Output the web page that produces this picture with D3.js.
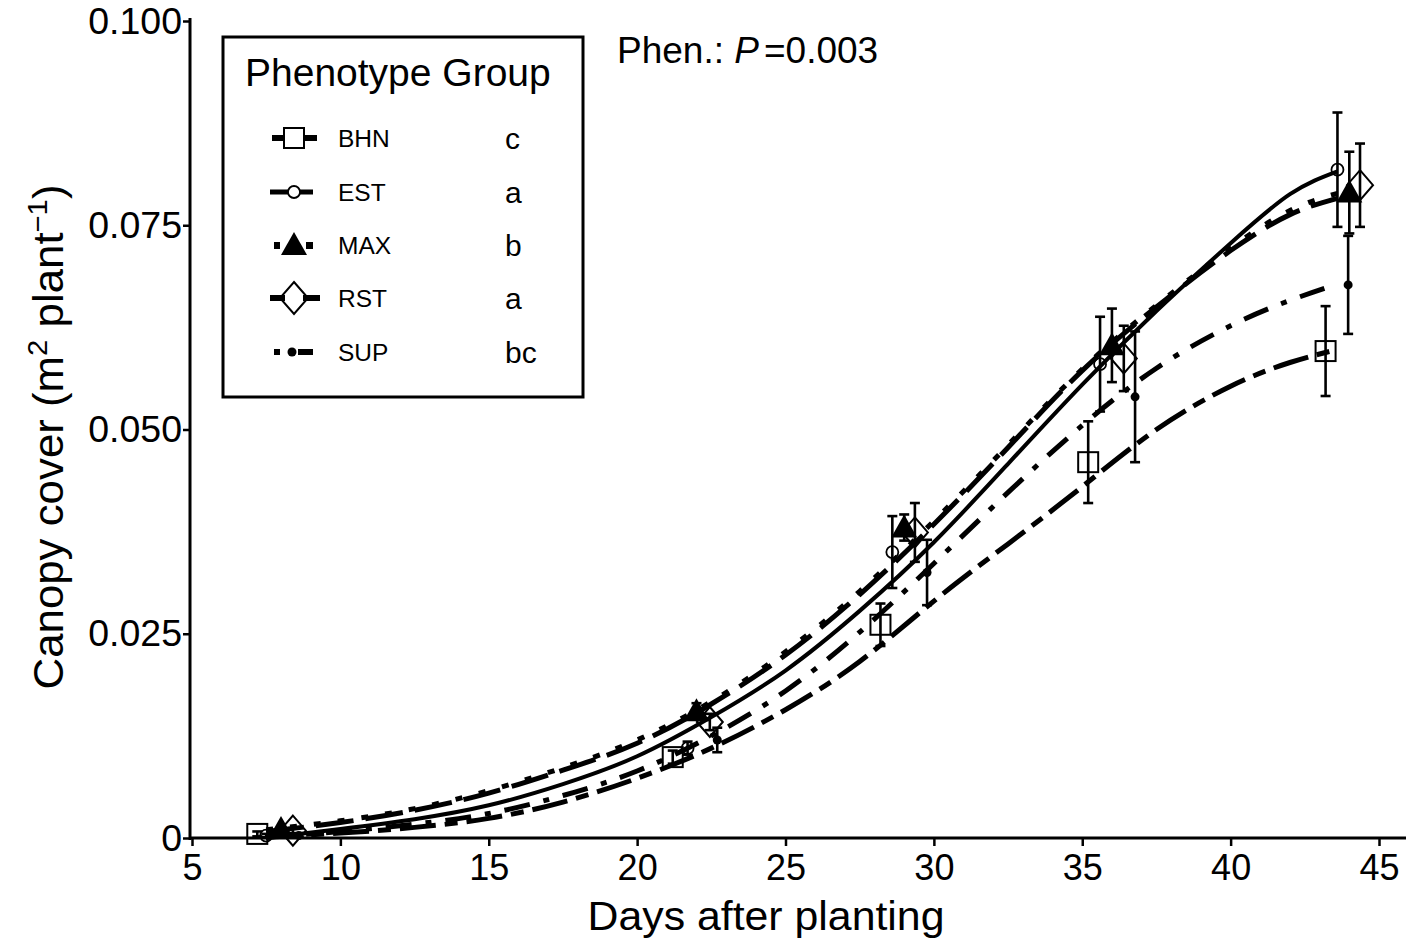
<!DOCTYPE html>
<html><head><meta charset="utf-8">
<script src="https://cdn.jsdelivr.net/npm/d3@7"></script>
<style>
body{margin:0;background:#fff}
svg{display:block}
text{font-family:"Liberation Sans",Arial,Helvetica,sans-serif;fill:#000}
</style>
</head><body>
<svg id="c" width="1407" height="943"></svg>
<script>
// ---------------- data ----------------
const groups = ["BHN", "EST", "MAX", "RST", "SUP"];
const groupLetters = ["c", "a", "b", "a", "bc"];
const xTicks = [5, 10, 15, 20, 25, 30, 35, 40, 45];
const yTicks = [0, 0.025, 0.05, 0.075, 0.1];
const yTickLabels = ["0", "0.025", "0.050", "0.075", "0.100"];

// observed means (+/- error) per phenotype group
const bhnDays = [7.2, 21.2, 28.2, 35.2, 43.2];
const bhnMean = [0.0005, 0.0099, 0.0261, 0.0460, 0.0596];
const bhnErr  = [0.0003, 0.0008, 0.0026, 0.0050, 0.0055];
const estDays = [7.5, 21.7, 28.6, 35.6, 43.6];
const estMean = [0.0003, 0.0110, 0.0350, 0.0580, 0.0818];
const estErr  = [0.0002, 0.0008, 0.0044, 0.0058, 0.0070];
const maxDays = [8.0, 22.0, 29.0, 36.0, 44.0];
const maxMean = [0.0011, 0.0155, 0.0380, 0.0603, 0.0790];
const maxErr  = [0.0003, 0.0010, 0.0016, 0.0045, 0.0050];
const rstDays = [8.4, 22.45, 29.36, 36.4, 44.36];
const rstMean = [0.0009, 0.0142, 0.0374, 0.0587, 0.0799];
const rstErr  = [0.0003, 0.0010, 0.0036, 0.0040, 0.0051];
const supDays = [8.6, 22.7, 29.77, 36.78, 43.96];
const supMean = [0.0003, 0.0120, 0.0325, 0.0540, 0.0677];
const supErr  = [0.0002, 0.0015, 0.0040, 0.0080, 0.0060];

// fitted growth curves
const fitDays = [7.5, 10, 12.5, 15, 17.5, 20, 22.5, 25, 27.5, 30, 32.5, 35, 37.5, 40, 42, 43.6];
const bhnFit = [0.0001, 0.0006, 0.0013, 0.0024, 0.0044, 0.0073, 0.0110, 0.0157, 0.0216, 0.0290, 0.0360, 0.0430, 0.0500, 0.0553, 0.0582, 0.0598];
const estFit = [0.0000, 0.0011, 0.0023, 0.0040, 0.0066, 0.0100, 0.0148, 0.0205, 0.0278, 0.0362, 0.0458, 0.0555, 0.0645, 0.0728, 0.0788, 0.0816];
const maxFit = [0.0010, 0.0021, 0.0036, 0.0058, 0.0086, 0.0120, 0.0167, 0.0228, 0.0302, 0.0388, 0.0481, 0.0574, 0.0652, 0.0722, 0.0768, 0.0789];
const rstFit = [0.0008, 0.0019, 0.0034, 0.0055, 0.0083, 0.0116, 0.0164, 0.0224, 0.0298, 0.0384, 0.0478, 0.0572, 0.0650, 0.0719, 0.0763, 0.0783];
const supFit = [0.0001, 0.0008, 0.0017, 0.0030, 0.0052, 0.0082, 0.0125, 0.0180, 0.0252, 0.0336, 0.0423, 0.0505, 0.0575, 0.0627, 0.0658, 0.0678];

// ---------------- styling ----------------
const series = [
  {name:"BHN", days:bhnDays, mean:bhnMean, err:bhnErr, fit:bhnFit, marker:"square",   dash:"36,9,13,9", width:5},
  {name:"EST", days:estDays, mean:estMean, err:estErr, fit:estFit, marker:"circle",   dash:null,        width:4},
  {name:"MAX", days:maxDays, mean:maxMean, err:maxErr, fit:maxFit, marker:"triangle", dash:"7,17",      width:5},
  {name:"RST", days:rstDays, mean:rstMean, err:rstErr, fit:rstFit, marker:"diamond",  dash:"38,12",     width:5},
  {name:"SUP", days:supDays, mean:supMean, err:supErr, fit:supFit, marker:"dot",      dash:"26,14,6,14",width:5}
];

const svg = d3.select("#c");
const x = d3.scaleLinear().domain([5, 45]).range([192, 1379]);
const y = d3.scaleLinear().domain([0, 0.1]).range([838, 21]);

function drawMarker(g, type, cx, cy, legend) {
  if (type === "square") {
    g.append("rect").attr("x", cx-10).attr("y", cy-10).attr("width", 20).attr("height", 20)
      .attr("fill", legend ? "#fff" : "none").attr("stroke", "#000").attr("stroke-width", 2);
  } else if (type === "circle") {
    g.append("circle").attr("cx", cx).attr("cy", cy).attr("r", 6)
      .attr("fill", legend ? "#fff" : "none").attr("stroke", "#000").attr("stroke-width", 1.8);
  } else if (type === "triangle") {
    g.append("path").attr("d", `M${cx},${cy-13}L${cx+13},${cy+10}L${cx-13},${cy+10}Z`).attr("fill", "#000");
  } else if (type === "diamond") {
    g.append("path").attr("d", `M${cx},${cy-15}L${cx+13},${cy}L${cx},${cy+15}L${cx-13},${cy}Z`)
      .attr("fill", legend ? "#fff" : "none").attr("stroke", "#000").attr("stroke-width", 2);
  } else if (type === "dot") {
    g.append("circle").attr("cx", cx).attr("cy", cy).attr("r", 4.5).attr("fill", "#000");
  }
}

// ---------------- curves ----------------
const line = d3.line().x(d => x(d[0])).y(d => y(d[1])).curve(d3.curveNatural);
const gCurves = svg.append("g");
series.forEach(s => {
  gCurves.append("path")
    .attr("d", line(fitDays.map((d, i) => [d, s.fit[i]])))
    .attr("fill", "none").attr("stroke", "#000")
    .attr("stroke-width", s.width)
    .attr("stroke-dasharray", s.dash)
    .attr("stroke-linecap", "butt");
});

// ---------------- error bars + markers ----------------
const gPts = svg.append("g");
series.forEach(s => {
  s.days.forEach((d, i) => {
    const px = x(d), lo = y(s.mean[i] - s.err[i]), hi = y(s.mean[i] + s.err[i]);
    gPts.append("line").attr("x1", px).attr("x2", px).attr("y1", lo).attr("y2", hi)
      .attr("stroke", "#000").attr("stroke-width", 2.6);
    [lo, hi].forEach(v => gPts.append("line").attr("x1", px-5).attr("x2", px+5).attr("y1", v).attr("y2", v)
      .attr("stroke", "#000").attr("stroke-width", 2.6));
  });
});
series.forEach(s => {
  s.days.forEach((d, i) => drawMarker(gPts, s.marker, x(d), y(s.mean[i]), false));
});

// ---------------- axes ----------------
const yAxis = svg.append("g").attr("transform", "translate(190,0)")
  .call(d3.axisLeft(y).tickValues(yTicks).tickFormat((d, i) => yTickLabels[i]).tickSize(7).tickSizeOuter(0).tickPadding(1));
yAxis.select(".domain").attr("stroke-width", 3).attr("d", "M0,18V840");
yAxis.selectAll(".tick line").attr("stroke-width", 2.5);
yAxis.selectAll("text").style("font-size", "37.5px").style("font-family", '"Liberation Sans",Arial,sans-serif');

const xAxis = svg.append("g").attr("transform", "translate(0,838)")
  .call(d3.axisBottom(x).tickValues(xTicks).tickSize(8).tickSizeOuter(0).tickPadding(8));
xAxis.select(".domain").attr("stroke-width", 3).attr("d", "M189,0H1406");
xAxis.selectAll(".tick line").attr("stroke-width", 2.5);
xAxis.selectAll("text").style("font-size", "36px").style("font-family", '"Liberation Sans",Arial,sans-serif');

// axis titles
svg.append("text").attr("x", 766).attr("y", 930).attr("text-anchor", "middle")
  .style("font-size", "40px").attr("textLength", 357).attr("lengthAdjust", "spacingAndGlyphs")
  .text("Days after planting");

const yt = svg.append("text").attr("transform", "translate(63,437) rotate(-90)")
  .attr("text-anchor", "middle").style("font-size", "42px")
  .attr("textLength", 505).attr("lengthAdjust", "spacingAndGlyphs");
yt.append("tspan").text("Canopy cover (m");
yt.append("tspan").attr("dy", -16).style("font-size", "28px").text("2");
yt.append("tspan").attr("dy", 16).text(" plant");
yt.append("tspan").attr("dy", -16).style("font-size", "28px").text("\u22121");
yt.append("tspan").attr("dy", 16).text(")");

// P-value annotation
const pt = svg.append("text").attr("x", 617).attr("y", 63).style("font-size", "37px");
pt.append("tspan").text("Phen.:  ");
pt.append("tspan").style("font-style", "italic").text("P");
pt.append("tspan").attr("dx", 5).text("=0.003");

// ---------------- legend ----------------
const lg = svg.append("g");
lg.append("rect").attr("x", 223).attr("y", 37).attr("width", 360).attr("height", 360)
  .attr("fill", "#fff").attr("stroke", "#000").attr("stroke-width", 3);
lg.append("text").attr("x", 245).attr("y", 86).style("font-size", "39px").text("Phenotype Group");
const rowY = [138, 192, 245, 298, 352];
series.forEach((s, i) => {
  const cy = rowY[i], cx = 294;
  if (s.name === "BHN") {
    lg.append("line").attr("x1", 272).attr("x2", 284).attr("y1", cy).attr("y2", cy).attr("stroke", "#000").attr("stroke-width", 6);
    lg.append("line").attr("x1", 304).attr("x2", 317).attr("y1", cy).attr("y2", cy).attr("stroke", "#000").attr("stroke-width", 6);
    drawMarker(lg, "square", cx, cy, true);
  } else if (s.name === "EST") {
    lg.append("line").attr("x1", 270).attr("x2", 313).attr("y1", cy).attr("y2", cy).attr("stroke", "#000").attr("stroke-width", 5);
    drawMarker(lg, "circle", cx, cy, true);
  } else if (s.name === "MAX") {
    lg.append("rect").attr("x", 274).attr("y", cy-3).attr("width", 6).attr("height", 7).attr("fill", "#000");
    lg.append("rect").attr("x", 306).attr("y", cy-3).attr("width", 7).attr("height", 7).attr("fill", "#000");
    drawMarker(lg, "triangle", cx, cy, true);
  } else if (s.name === "RST") {
    lg.append("path").attr("d", `M${cx},${cy-16}L${cx+14},${cy}L${cx},${cy+16}L${cx-14},${cy}Z`)
      .attr("fill", "#fff").attr("stroke", "#000").attr("stroke-width", 2);
    lg.append("line").attr("x1", 270).attr("x2", 285).attr("y1", cy).attr("y2", cy).attr("stroke", "#000").attr("stroke-width", 6);
    lg.append("line").attr("x1", 303).attr("x2", 320).attr("y1", cy).attr("y2", cy).attr("stroke", "#000").attr("stroke-width", 6);
  } else if (s.name === "SUP") {
    lg.append("rect").attr("x", 274).attr("y", cy-3).attr("width", 6).attr("height", 6).attr("fill", "#000");
    lg.append("line").attr("x1", 298).attr("x2", 313).attr("y1", cy).attr("y2", cy).attr("stroke", "#000").attr("stroke-width", 6);
    drawMarker(lg, "dot", 292, cy, true);
  }
  lg.append("text").attr("x", 338).attr("y", cy).attr("dy", "0.36em").style("font-size", "24.5px").text(s.name);
  lg.append("text").attr("x", 505).attr("y", cy).attr("dy", "0.36em").style("font-size", "30px").text(groupLetters[i]);
});
</script>
</body></html>
